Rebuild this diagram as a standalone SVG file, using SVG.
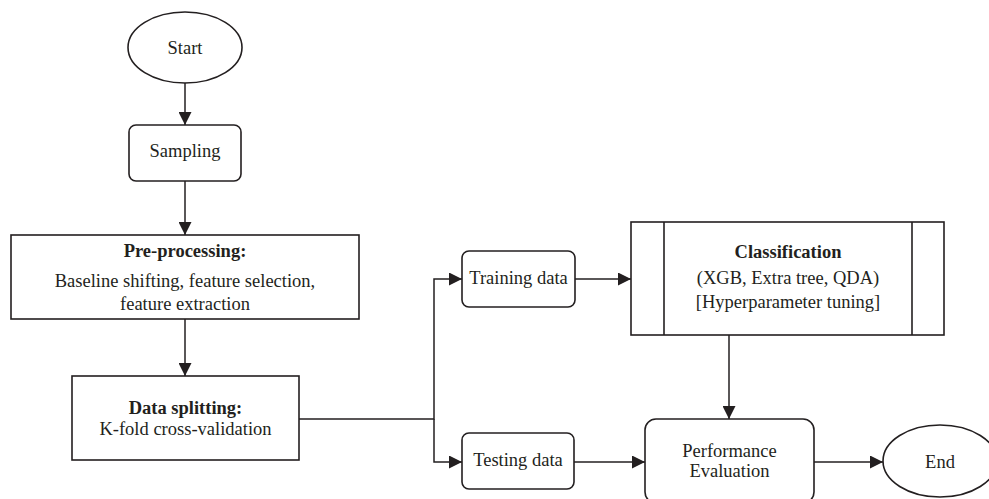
<svg xmlns="http://www.w3.org/2000/svg" width="989" height="499" viewBox="0 0 989 499">
<defs>
<style>
.shape{fill:#ffffff;stroke:#231f20;stroke-width:1.6}
.conn{fill:none;stroke:#231f20;stroke-width:1.5}
text{font-family:"Liberation Serif","Times New Roman",serif;font-size:18.5px;fill:#231f20;text-anchor:middle}
.b{font-weight:bold}
</style>
<marker id="arr" viewBox="0 0 13 13" refX="13" refY="6.5" markerWidth="13" markerHeight="13" markerUnits="userSpaceOnUse" orient="auto">
<path d="M0,0 L13,6.5 L0,13 Z" fill="#231f20"/>
</marker>
</defs>
<rect width="989" height="499" fill="#ffffff"/>
<g id="connectors">
<path class="conn" d="M185,83 V125" marker-end="url(#arr)"/>
<path class="conn" d="M185,181 V235" marker-end="url(#arr)"/>
<path class="conn" d="M185,319 V376" marker-end="url(#arr)"/>
<path class="conn" d="M299,419 H434 V279 H462" marker-end="url(#arr)"/>
<path class="conn" d="M434,419 V462 H462" marker-end="url(#arr)"/>
<path class="conn" d="M575,279 H631" marker-end="url(#arr)"/>
<path class="conn" d="M729,335 V419" marker-end="url(#arr)"/>
<path class="conn" d="M574,462 H645" marker-end="url(#arr)"/>
<path class="conn" d="M814,462 H883" marker-end="url(#arr)"/>
</g>
<g id="start">
<ellipse class="shape" cx="185" cy="47.5" rx="57" ry="35.5"/>
<text x="185" y="54">Start</text>
</g>
<g id="sampling">
<rect class="shape" x="129" y="125" width="112" height="56" rx="7"/>
<text x="185" y="157">Sampling</text>
</g>
<g id="preprocessing">
<rect class="shape" x="11" y="235" width="348" height="84"/>
<text class="b" x="185" y="257">Pre-processing:</text>
<text x="185" y="287">Baseline shifting, feature selection,</text>
<text x="185" y="310">feature extraction</text>
</g>
<g id="datasplitting">
<rect class="shape" x="72" y="376" width="227" height="84"/>
<text class="b" x="185.5" y="414">Data splitting:</text>
<text x="185.5" y="435">K-fold cross-validation</text>
</g>
<g id="training">
<rect class="shape" x="462" y="251" width="113" height="56" rx="7"/>
<text x="518.5" y="284">Training data</text>
</g>
<g id="testing">
<rect class="shape" x="462" y="433" width="112" height="56" rx="7"/>
<text x="518" y="466">Testing data</text>
</g>
<g id="classification">
<rect class="shape" x="631" y="222" width="313" height="113"/>
<line class="shape" x1="664" y1="222" x2="664" y2="335"/>
<line class="shape" x1="912" y1="222" x2="912" y2="335"/>
<text class="b" x="788" y="258">Classification</text>
<text x="788" y="283.5">(XGB, Extra tree, QDA)</text>
<text x="788" y="308">[Hyperparameter tuning]</text>
</g>
<g id="performance">
<rect class="shape" x="645" y="419" width="169" height="84" rx="11"/>
<text x="729.5" y="457">Performance</text>
<text x="729.5" y="477">Evaluation</text>
</g>
<g id="end">
<ellipse class="shape" cx="940" cy="461" rx="57" ry="36"/>
<text x="940" y="468">End</text>
</g>
</svg>
